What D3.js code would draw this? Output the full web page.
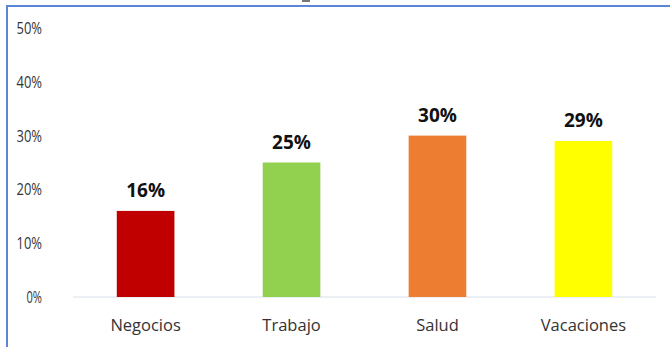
<!DOCTYPE html>
<html>
<head>
<meta charset="utf-8">
<script src="https://cdn.jsdelivr.net/npm/d3@7"></script>
<style>
  html, body { margin: 0; padding: 0; background: #fff; }
  svg { display: block; }
  text { font-family: "Open Sans", "Noto Sans", sans-serif; }
</style>
</head>
<body>
<svg id="chart" width="670" height="347"></svg>
<script>
// Motivo de viaje: share of respondents per category
const categories = ["Negocios", "Trabajo", "Salud", "Vacaciones"];
const values = [0.16, 0.25, 0.30, 0.29];
const colors = ["#c00000", "#92d050", "#ed7d31", "#ffff00"];
const yTicks = [0, 0.1, 0.2, 0.3, 0.4, 0.5];

const svg = d3.select("#chart");
const W = 670, H = 347;

// Frame of the chart area (top and left edges visible)
svg.append("line").attr("x1", 6).attr("x2", W).attr("y1", 6).attr("y2", 6)
  .attr("stroke", "#5b86d6").attr("stroke-width", 2);
svg.append("line").attr("x1", 7).attr("x2", 7).attr("y1", 5).attr("y2", H)
  .attr("stroke", "#5b86d6").attr("stroke-width", 2);
// small dark tail of the heading just above the frame
svg.append("rect").attr("x", 302).attr("y", 0).attr("width", 8).attr("height", 2)
  .attr("fill", "#777");

const plot = { left: 73, right: 656, top: 28, bottom: 297 };

const x = d3.scaleBand().domain(categories)
  .range([plot.left, plot.right]).paddingInner(0.605).paddingOuter(0.3);
const y = d3.scaleLinear().domain([0, 0.5]).range([plot.bottom, plot.top]);

// Y axis labels (no axis line, no ticks)
const yAxis = d3.axisLeft(y).tickValues(yTicks).tickFormat(d3.format(".0%"))
  .tickSize(0).tickPadding(0);
const gy = svg.append("g").attr("transform", `translate(42,0)`).call(yAxis);
gy.select(".domain").remove();
gy.selectAll("text").attr("font-size", 15.5).attr("fill", "#333")
  .attr("font-family", "'Open Sans', sans-serif").attr("dy", "0.35em")
  .attr("textLength", d => d === 0 ? 15.5 : 25.5).attr("lengthAdjust", "spacingAndGlyphs");

// Baseline
svg.append("line").attr("x1", plot.left).attr("x2", plot.right)
  .attr("y1", y(0)).attr("y2", y(0)).attr("stroke", "#d9dfe9").attr("stroke-width", 1);

// Bars
svg.append("g").selectAll("rect").data(categories).join("rect")
  .attr("x", d => x(d))
  .attr("width", x.bandwidth())
  .attr("y", (d, i) => y(values[i]))
  .attr("height", (d, i) => y(0) - y(values[i]))
  .attr("fill", (d, i) => colors[i]);

// Value labels
svg.append("g").selectAll("text").data(categories).join("text")
  .attr("x", d => x(d) + x.bandwidth() / 2)
  .attr("y", (d, i) => y(values[i]) - 14)
  .attr("text-anchor", "middle")
  .attr("font-size", 19).attr("font-weight", "bold").attr("fill", "#111")
  .text((d, i) => d3.format(".0%")(values[i]));

// X axis labels
const xAxis = d3.axisBottom(x).tickSize(0).tickPadding(0);
const gx = svg.append("g").attr("transform", `translate(0,${y(0)})`).call(xAxis);
gx.select(".domain").remove();
gx.selectAll("text").attr("font-size", 16.5).attr("fill", "#333")
  .attr("font-family", "'Open Sans', sans-serif").attr("dy", "0").attr("y", 34);
</script>
</body>
</html>
